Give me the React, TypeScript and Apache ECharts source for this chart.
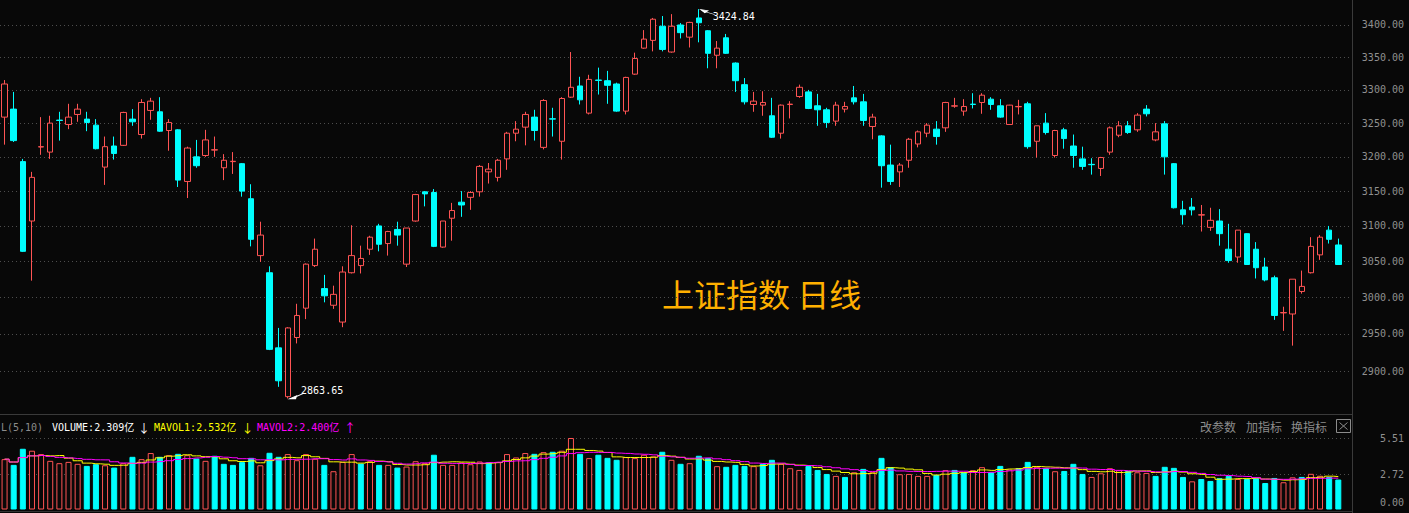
import React, { useEffect, useRef } from "react";
import * as echarts from "echarts";

// 上证指数 日线 — daily OHLC (147 sessions)
const opens = [
  3259, 3271, 3193, 3107, 3214.5, 3207, 3254.5, 3248, 3263, 3256,
  3247, 3185, 3216, 3217, 3256, 3233, 3269, 3267, 3239, 3240,
  3164, 3200, 3202, 3210, 3184, 3193, 3190, 3139, 3058, 3034,
  2931, 2866, 2945, 2985, 3044, 3012, 2989, 2966, 3034, 3044,
  3067, 3100, 3075, 3095, 3046, 3107, 3149, 3148, 3070, 3111,
  3134, 3141, 3149, 3178, 3170, 3197, 3235, 3244, 3259, 3214,
  3256.5, 3223, 3289, 3306, 3265, 3315, 3314, 3309, 3268, 3324,
  3364, 3376, 3398, 3358, 3400, 3381, 3411, 3391, 3353, 3380,
  3341, 3308, 3278, 3277, 3261, 3235, 3278, 3290, 3297, 3276,
  3270, 3253, 3271, 3288, 3282, 3245, 3231, 3188, 3178, 3195,
  3219, 3235, 3241, 3243, 3275.5, 3268, 3278.5, 3281, 3286, 3276,
  3248, 3274.5, 3279, 3223, 3250, 3202, 3240, 3216, 3197, 3189,
  3183, 3207, 3232, 3246, 3240, 3271, 3225, 3249, 3190, 3123,
  3127, 3115.5, 3098, 3107, 3067, 3056, 3089, 3067, 3042, 3027,
  2978.5, 2977, 3008, 3034, 3059, 3094, 3073,
];
const highs = [
  3315, 3297, 3197, 3178, 3259, 3261, 3267, 3279, 3279, 3267,
  3256, 3230, 3230, 3267, 3271, 3286, 3288, 3289, 3256, 3241,
  3215, 3225, 3240, 3230, 3204, 3207, 3191, 3160, 3106, 3043,
  2958, 2959, 2991, 3047, 3082, 3031, 3016, 3043, 3101, 3072,
  3086, 3103, 3093, 3106, 3097, 3146, 3150, 3153, 3107, 3133,
  3150, 3150, 3188, 3191, 3197, 3237, 3253, 3267, 3270, 3286,
  3273, 3289, 3358, 3320, 3323, 3334, 3329, 3311, 3320, 3357,
  3392, 3411, 3414, 3417, 3403, 3405, 3424.84, 3392, 3375, 3386,
  3342, 3318, 3297, 3298, 3288, 3278, 3283, 3308, 3300, 3294,
  3273, 3282, 3282, 3306, 3294, 3264, 3232, 3218, 3191, 3228,
  3239, 3250, 3253, 3282, 3288, 3286, 3295, 3295, 3289, 3286,
  3277.5, 3285, 3282, 3246, 3265, 3240, 3243, 3233, 3215, 3198,
  3200, 3245, 3253, 3253, 3265, 3277, 3250, 3253, 3191, 3136,
  3140, 3130, 3126, 3124, 3103, 3094, 3089.5, 3077, 3055, 3030,
  2987, 3025, 3037, 3084, 3087, 3100, 3082,
];
const lows = [
  3218, 3222, 3063, 3023, 3203, 3197, 3224, 3241, 3252, 3238,
  3211, 3159, 3196, 3216, 3246, 3227, 3255, 3237, 3209, 3156,
  3140, 3184, 3200, 3200, 3166, 3175, 3142, 3071, 3049, 2928,
  2879, 2863.65, 2937, 2970, 3042, 2993, 2984, 2959, 3033, 3033,
  3059, 3064, 3058, 3072, 3042, 3106, 3128, 3070, 3069, 3079,
  3113, 3123, 3142, 3161, 3164, 3181, 3223, 3217, 3224, 3211,
  3230, 3196, 3288, 3278, 3263, 3293, 3279, 3267, 3263, 3323,
  3363, 3359, 3359, 3357, 3379, 3365, 3373, 3333, 3333, 3355,
  3297, 3278, 3267, 3261, 3228, 3227, 3257, 3288, 3271, 3246,
  3243, 3246, 3266, 3278, 3246, 3226, 3155, 3159, 3156, 3184,
  3214, 3229, 3218, 3237, 3273, 3261, 3272, 3264, 3270, 3258,
  3248, 3263, 3212, 3199, 3233, 3199, 3212, 3184, 3181, 3174,
  3172, 3203, 3229, 3234, 3237, 3260, 3223, 3174, 3125, 3102,
  3115, 3092, 3093, 3072, 3048, 3048, 3045, 3026, 3022, 2969,
  2954, 2934, 3005, 3033, 3052, 3075, 3045,
];
const closes = [
  3309, 3224, 3064, 3170, 3215, 3250, 3254, 3259, 3271, 3251,
  3212, 3215, 3205, 3266, 3252, 3281, 3283, 3238, 3251, 3166,
  3213, 3187, 3225, 3210.5, 3195, 3193.5, 3150, 3081, 3087, 2929,
  2887, 2958, 2975, 3046, 3067, 3002, 3004, 3035, 3058, 3054,
  3084, 3074, 3092, 3087, 3097, 3145, 3146, 3071, 3107, 3122,
  3130, 3148, 3186, 3182, 3195, 3235, 3241, 3263, 3239, 3284,
  3256, 3287, 3304, 3285, 3316, 3314.5, 3307, 3268, 3319, 3348,
  3378, 3409, 3362, 3398, 3388, 3404, 3403.5, 3356, 3364, 3356,
  3314, 3282, 3283, 3281, 3229, 3277, 3278.5, 3304, 3272, 3270,
  3251, 3277, 3275, 3282, 3254, 3259, 3187, 3164, 3188, 3226,
  3237, 3247, 3230, 3281, 3276, 3275, 3278, 3292, 3278, 3259,
  3277, 3275, 3215, 3246, 3236, 3239, 3227, 3202, 3186, 3188.5,
  3199, 3243, 3246, 3236, 3262, 3264, 3237, 3200, 3126, 3116,
  3123, 3116, 3108, 3089, 3051, 3094, 3045.5, 3041, 3024, 2975,
  2979, 3025, 3015, 3071, 3084, 3081, 3045.5,
];
// 成交量 (亿)
const volumes = [
  3.88, 3.44, 4.68, 4.53, 4.27, 3.75, 3.57, 3.67, 3.52, 3.36,
  3.49, 3.41, 3.23, 3.57, 4.06, 3.88, 4.35, 4.06, 4.19, 4.29,
  4.19, 3.93, 3.75, 4.14, 3.52, 3.44, 3.65, 3.98, 3.41, 4.37,
  4.06, 4.27, 3.8, 4.27, 3.91, 3.44, 2.95, 3.67, 4.27, 3.54,
  3.72, 3.44, 3.44, 3.23, 3.31, 3.72, 3.57, 4.22, 3.44, 3.44,
  3.62, 3.49, 3.7, 3.62, 3.65, 4.27, 4.01, 4.35, 4.29, 4.42,
  4.45, 4.53, 5.51, 4.29, 3.96, 4.22, 3.98, 3.83, 4.04, 3.96,
  4.22, 4.09, 4.45, 3.83, 3.52, 3.57, 4.14, 3.96, 3.34, 3.29,
  3.44, 3.36, 3.34, 3.52, 3.83, 3.52, 3.18, 3.05, 3.36, 3.05,
  2.74, 2.59, 2.51, 2.87, 3.13, 2.87, 3.98, 3.26, 2.72, 2.74,
  2.59, 2.59, 2.66, 3.03, 3.05, 2.87, 3.03, 3.26, 2.87, 3.36,
  3.08, 3.18, 3.67, 3.29, 3.18, 2.95, 2.97, 3.52, 2.74, 2.51,
  2.79, 3.18, 3.03, 2.97, 2.87, 2.82, 2.59, 3.29, 3.21, 2.51,
  2.17, 2.35, 2.2, 2.41, 2.59, 2.35, 2.35, 2.41, 2.04, 2.43,
  2.1, 2.48, 2.51, 2.75, 2.6, 2.5, 2.309,
];
const priceTicks = [2900, 2950, 3000, 3050, 3100, 3150, 3200, 3250, 3300, 3350, 3400];
const volumeLabelTicks = [0, 2.72, 5.51];
const volumeGridTicks = [2.72, 5.51];
const extremeHigh = { index: 76, value: 3424.84 };
const extremeLow = { index: 31, value: 2863.65 };
const chartTitle = "上证指数 日线";
const volumeLegend = [
  { text: "L(5,10)", color: "#8c8c8c", x: 1 },
  { text: "VOLUME:2.309亿", color: "#ffffff", x: 52 },
  { text: "MAVOL1:2.532亿", color: "#ffff00", x: 154 },
  { text: "MAVOL2:2.400亿", color: "#ff00ff", x: 257 },
];
const legendArrows = [
  { text: "↓", color: "#ffffff", x: 138 },
  { text: "↓", color: "#ffff00", x: 241.5 },
  { text: "↑", color: "#ff00ff", x: 344 },
];
const panelButtons = [
  { text: "改参数", x: 1200 },
  { text: "加指标", x: 1246 },
  { text: "换指标", x: 1291 },
];

const BG = "#080808";
const RED = "#ff5454";
const CYAN = "#00ffff";
const GRID = "#4d4d4d";
const LABEL = "#909090";
const FRAME = "#3a3a3a";
const MONO = '"DejaVu Sans Mono", "Noto Sans CJK SC", monospace';

function movingAverage(values: number[], n: number): number[] {
  return values.map((_, i) => {
    const w = values.slice(Math.max(0, i - n + 1), i + 1);
    return +(w.reduce((a, b) => a + b, 0) / w.length).toFixed(3);
  });
}

export default function App() {
  const ref = useRef<HTMLDivElement>(null);

  useEffect(() => {
    if (!ref.current) return;
    const chart = echarts.init(ref.current, null, { renderer: "svg" });
    const slots = Array.from({ length: opens.length + 1 }, (_, i) => String(i + 1));
    const candles = opens.map((o, i) => [o, closes[i], lows[i], highs[i]]);
    const volBars = volumes.map((v, i) => {
      const up = i === 0 ? closes[i] >= opens[i] : closes[i] >= closes[i - 1];
      return {
        value: v,
        itemStyle: up
          ? { color: BG, borderColor: RED, borderWidth: 1 }
          : { color: CYAN, borderColor: CYAN, borderWidth: 1 },
      };
    });
    const ma5 = movingAverage(volumes, 5);
    const ma10 = movingAverage(volumes, 10);

    const hiddenX = (gridIndex: number) => ({
      type: "category" as const,
      gridIndex,
      data: slots,
      boundaryGap: true,
      axisLine: { show: false },
      axisTick: { show: false },
      axisLabel: { show: false },
      splitLine: { show: false },
    });

    const graphic: any[] = [
      { type: "line", silent: true, shape: { x1: 1352.5, y1: 0, x2: 1352.5, y2: 513 }, style: { stroke: FRAME, lineWidth: 1 } },
      { type: "line", silent: true, shape: { x1: 0, y1: 414.5, x2: 1352, y2: 414.5 }, style: { stroke: FRAME, lineWidth: 1 } },
      { type: "line", silent: true, shape: { x1: 0, y1: 511.5, x2: 1352, y2: 511.5 }, style: { stroke: "#333333", lineWidth: 1 } },
      {
        type: "text", silent: true, x: 662, y: 293,
        style: { text: chartTitle, fill: "#ffb000", fontSize: 32, fontFamily: '"Noto Sans CJK SC"', verticalAlign: "middle", align: "left" },
      },
      ...volumeLegend.map((it) => ({
        type: "text", silent: true, x: it.x, y: 427,
        style: { text: it.text, fill: it.color, fontSize: 10, fontFamily: MONO, verticalAlign: "middle", align: "left" },
      })),
      ...legendArrows.map((it) => ({
        type: "text", silent: true, x: it.x, y: 427,
        style: { text: it.text, fill: it.color, fontSize: 12, fontFamily: '"Noto Sans CJK SC"', verticalAlign: "middle", align: "left" },
      })),
      ...panelButtons.map((b) => ({
        type: "text", silent: true, x: b.x, y: 426,
        style: { text: b.text, fill: "#8c8c8c", fontSize: 12, fontFamily: '"Noto Sans CJK SC"', verticalAlign: "middle", align: "left" },
      })),
      { type: "rect", silent: true, shape: { x: 1336.5, y: 419.5, width: 14, height: 13 }, style: { fill: "none", stroke: "#8c8c8c", lineWidth: 1 } },
      { type: "line", silent: true, shape: { x1: 1339.5, y1: 422.5, x2: 1347.5, y2: 429.5 }, style: { stroke: "#8c8c8c", lineWidth: 1 } },
      { type: "line", silent: true, shape: { x1: 1347.5, y1: 422.5, x2: 1339.5, y2: 429.5 }, style: { stroke: "#8c8c8c", lineWidth: 1 } },
    ];

    chart.setOption({
      animation: false,
      backgroundColor: BG,
      grid: [
        { left: -2.9, right: 57, top: 2, height: 406 },
        { left: -2.9, right: 57, top: 438, height: 71.5 },
      ],
      xAxis: [hiddenX(0), hiddenX(1)],
      yAxis: [
        {
          type: "log",
          gridIndex: 0,
          position: "right",
          logBase: 10,
          min: 2851.1,
          max: 3436.1,
          axisLine: { show: false },
          axisTick: { show: false, customValues: priceTicks },
          axisLabel: {
            customValues: priceTicks,
            formatter: (v: number) => Number(v).toFixed(2),
            color: LABEL,
            fontFamily: MONO,
            fontSize: 10,
            align: "right",
            margin: 52,
          },
          splitLine: { show: true, lineStyle: { color: GRID, type: [1, 3], width: 1 } },
        },
        {
          type: "value",
          gridIndex: 1,
          position: "right",
          min: 0,
          max: 5.51,
          axisLine: { show: false },
          axisTick: { show: false, customValues: volumeGridTicks },
          axisLabel: {
            customValues: volumeLabelTicks,
            formatter: (v: number) => (Number(v) === 0 ? "{z|0.00}" : "{n|" + Number(v).toFixed(2) + "}"),
            color: LABEL,
            fontFamily: MONO,
            fontSize: 10,
            align: "right",
            margin: 52,
            rich: {
              z: { color: LABEL, fontFamily: MONO, fontSize: 10, padding: [0, 0, 14, 0] },
              n: { color: LABEL, fontFamily: MONO, fontSize: 10 },
            },
          },
          splitLine: { show: true, lineStyle: { color: GRID, type: [1, 3], width: 1 } },
        },
      ],
      series: [
        {
          type: "candlestick",
          xAxisIndex: 0,
          yAxisIndex: 0,
          data: candles,
          barWidth: 6,
          silent: true,
          itemStyle: { color: BG, color0: CYAN, borderColor: RED, borderColor0: CYAN, borderWidth: 1 },
          markPoint: {
            silent: true,
            data: [
              {
                coord: [extremeHigh.index, extremeHigh.value],
                value: extremeHigh.value,
                symbol: "path://M0,0L7,1L4,3ZM4,2L14,5",
                symbolSize: [14, 5],
                symbolOffset: [9, 3],
                symbolKeepAspect: false,
                itemStyle: { color: "#ffffff", borderColor: "#ffffff", borderWidth: 1 },
                label: { show: true, position: "right", distance: 0, offset: [-3, 4], color: "#ffffff", fontFamily: MONO, fontSize: 10, formatter: () => extremeHigh.value.toFixed(2) },
              },
              {
                coord: [extremeLow.index, extremeLow.value],
                value: extremeLow.value,
                symbol: "path://M0,6L7,3L6,6ZM5,4.5L15,0",
                symbolSize: [15, 6],
                symbolOffset: [9, -2.5],
                symbolKeepAspect: false,
                itemStyle: { color: "#ffffff", borderColor: "#ffffff", borderWidth: 1 },
                label: { show: true, position: "right", distance: 0, offset: [-4, -5], color: "#ffffff", fontFamily: MONO, fontSize: 10, formatter: () => extremeLow.value.toFixed(2) },
              },
            ],
          },
        },
        {
          type: "bar",
          xAxisIndex: 1,
          yAxisIndex: 1,
          data: volBars,
          barWidth: 6,
          silent: true,
        },
        {
          type: "line",
          xAxisIndex: 1,
          yAxisIndex: 1,
          data: ma5,
          step: "middle",
          symbol: "none",
          silent: true,
          lineStyle: { color: "#ffff00", width: 1 },
        },
        {
          type: "line",
          xAxisIndex: 1,
          yAxisIndex: 1,
          data: ma10,
          step: "middle",
          symbol: "none",
          silent: true,
          lineStyle: { color: "#ff00ff", width: 1 },
        },
      ],
      graphic,
    });

    return () => chart.dispose();
  }, []);

  return (
    <div
      ref={ref}
      style={{ position: "fixed", left: 0, top: 0, width: 1409, height: 513, background: BG }}
    />
  );
}
